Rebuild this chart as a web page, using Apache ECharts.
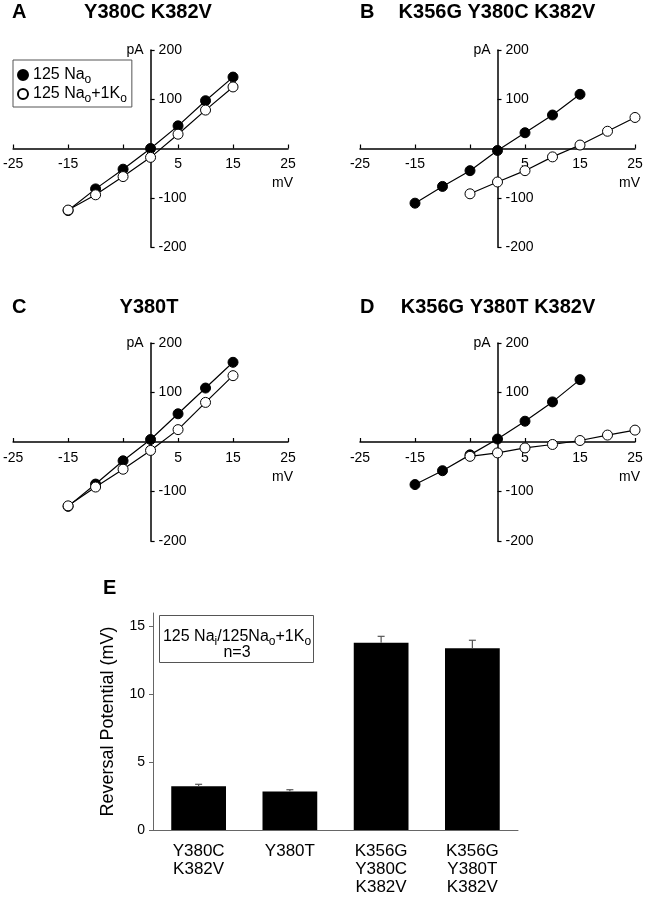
<!DOCTYPE html>
<html>
<head>
<meta charset="utf-8">
<script src="https://cdn.jsdelivr.net/npm/echarts@6/dist/echarts.min.js"></script>
<style>
html,body{margin:0;padding:0;background:#fff;}
#chart{width:646px;height:899px;}
</style>
</head>
<body>
<div id="chart"></div>
<script>
// ---------- data ----------
const ivTicks = [-25, -15, -5, 5, 15, 25];
const ivXLabels = [-25, -15, 5, 15, 25];
const ivYLabels = [-200, -100, 100, 200];

const voltShort = [-15, -10, -5, 0, 5, 10, 15];
const voltLong = [-5, 0, 5, 10, 15, 20, 25];

const aNa = [-126, -82, -42, 0, 46, 97, 145];
const aNaK = [-125, -94, -57, -18, 29, 78, 125];

const bNa = [-111, -77, -45, -4, 32, 68, 110];
const bNaK = [-92, -68, -45, -17, 7, 35, 63];

const cNa = [-130, -85, -38, 5, 57, 109, 161];
const cNaK = [-129, -91, -55, -17, 25, 80, 134];

const dNa = [-86, -58, -26, 6, 42, 81, 126];
const dNaK = [-29, -22, -12, -5, 3, 14, 24];

const barCategories = ['Y380C\nK382V', 'Y380T', 'K356G\nY380C\nK382V', 'K356G\nY380T\nK382V'];
const barMeans = [3.22, 2.83, 13.8, 13.4];
const barErrors = [0.15, 0.14, 0.48, 0.59];
const barYLabels = [0, 5, 10, 15];

const nameNa = '125 Nao';
const nameNaK = '125 Nao+1Ko';

// ---------- layout ----------
const FONT = 'Liberation Sans, Arial, sans-serif';
const panels = [
  {left: 13, top: 50, width: 275, height: 197},
  {left: 360, top: 50, width: 275, height: 197},
  {left: 13, top: 343, width: 275, height: 198},
  {left: 360, top: 343, width: 275, height: 198}
];

function zip(xs, ys) { return xs.map((x, i) => [x, ys[i]]); }

const grids = panels.map(p => ({left: p.left, top: p.top, width: p.width, height: p.height, containLabel: false}));
grids.push({left: 153, top: 613, width: 365, height: 217});

// axes cross at zero: ranges are symmetric, so the crossing is the grid's middle
const xAxes = panels.map((p, i) => ({
  type: 'value', gridIndex: i, min: -25, max: 25, position: 'bottom', offset: -p.height / 2,
  axisLine: {onZero: false, lineStyle: {color: '#000', width: 1.5}},
  axisTick: {inside: true, length: 4, customValues: ivTicks, lineStyle: {color: '#000', width: 1.2}},
  axisLabel: {customValues: ivXLabels, fontSize: 14, color: '#000', margin: 9, fontFamily: FONT},
  splitLine: {show: false},
  name: 'mV', nameLocation: 'end', nameGap: 5,
  nameTextStyle: {fontSize: 14, color: '#000', align: 'right', verticalAlign: 'top', padding: [28, 0, 0, 0], fontFamily: FONT}
}));
xAxes.push({
  type: 'category', gridIndex: 4, data: barCategories,
  axisLine: {lineStyle: {color: '#666', width: 1}},
  axisTick: {alignWithLabel: true, length: 5, lineStyle: {color: '#666'}},
  axisLabel: {interval: 0, fontSize: 17, color: '#000', lineHeight: 18, margin: 12, fontFamily: FONT}
});

const yAxes = panels.map((p, i) => ({
  type: 'value', gridIndex: i, min: -200, max: 200, position: 'left', offset: -p.width / 2,
  axisLine: {onZero: false, lineStyle: {color: '#000', width: 1.5}},
  axisTick: {inside: true, length: 4, customValues: ivYLabels, lineStyle: {color: '#000', width: 1.2}},
  axisLabel: {inside: true, customValues: ivYLabels, fontSize: 14, color: '#000', margin: 8, fontFamily: FONT},
  splitLine: {show: false},
  name: 'pA', nameLocation: 'end', nameGap: 0,
  nameTextStyle: {fontSize: 14, color: '#000', align: 'right', verticalAlign: 'middle', padding: [0, 7, 0, 0], fontFamily: FONT}
}));
yAxes.push({
  type: 'value', gridIndex: 4, min: 0, max: 16,
  axisLine: {show: true, lineStyle: {color: '#666', width: 1}},
  axisTick: {show: true, length: 4, customValues: barYLabels, lineStyle: {color: '#666'}},
  axisLabel: {customValues: barYLabels, fontSize: 14, color: '#000', margin: 8, fontFamily: FONT},
  splitLine: {show: false},
  name: 'Reversal Potential (mV)', nameLocation: 'middle', nameGap: 36,
  nameTextStyle: {fontSize: 18, color: '#000', fontFamily: FONT}
});

const filledStyle = {color: '#000', borderColor: '#000', borderWidth: 1};
const openStyle = {color: '#fff', borderColor: '#000', borderWidth: 1};
function ivSeries(idx, name, xs, ys, style) {
  return {
    type: 'line', name: name, xAxisIndex: idx, yAxisIndex: idx,
    data: zip(xs, ys), symbol: 'circle', symbolSize: 10,
    lineStyle: {color: '#000', width: 1.2}, itemStyle: style,
    emphasis: {disabled: true}, animation: false, z: 3
  };
}

const series = [
  ivSeries(0, nameNa, voltShort, aNa, filledStyle),
  ivSeries(0, nameNaK, voltShort, aNaK, openStyle),
  ivSeries(1, nameNa, voltShort, bNa, filledStyle),
  ivSeries(1, nameNaK, voltLong, bNaK, openStyle),
  ivSeries(2, nameNa, voltShort, cNa, filledStyle),
  ivSeries(2, nameNaK, voltShort, cNaK, openStyle),
  ivSeries(3, nameNa, voltShort, dNa, filledStyle),
  ivSeries(3, nameNaK, voltLong, dNaK, openStyle),
  {
    type: 'bar', xAxisIndex: 4, yAxisIndex: 4, data: barMeans, barWidth: '60%',
    itemStyle: {color: '#000'}, animation: false
  },
  {
    type: 'custom', xAxisIndex: 4, yAxisIndex: 4,
    data: barMeans.map((m, i) => [i, m, m + barErrors[i]]),
    encode: {x: 0, y: [1, 2]},
    renderItem: function (params, api) {
      const lo = api.coord([api.value(0), api.value(1)]);
      const hi = api.coord([api.value(0), api.value(2)]);
      const st = {stroke: '#555', lineWidth: 1.2};
      return {type: 'group', children: [
        {type: 'line', shape: {x1: lo[0], y1: lo[1], x2: hi[0], y2: hi[1]}, style: st},
        {type: 'line', shape: {x1: hi[0] - 3.5, y1: hi[1], x2: hi[0] + 3.5, y2: hi[1]}, style: st}
      ]};
    },
    z: 5, animation: false
  }
];

function t(x, y, text, size, bold, align) {
  return {type: 'text', x: x, y: y, silent: true, z: 11,
    style: {text: text, font: (bold ? 'bold ' : '') + size + 'px ' + FONT, fill: '#000',
      textAlign: align || 'left', align: align || 'left', textVerticalAlign: 'middle', verticalAlign: 'middle'}};
}

const subRich = {
  n: {fontSize: 16, color: '#000', fontFamily: FONT, lineHeight: 22},
  s: {fontSize: 12, color: '#000', fontFamily: FONT, lineHeight: 12, padding: [10, 0, 0, 0]}
};

const graphic = [
  t(12, 12, 'A', 20, true), t(148, 12, 'Y380C K382V', 20, true, 'center'),
  t(360, 12, 'B', 20, true), t(497, 12, 'K356G Y380C K382V', 20, true, 'center'),
  t(12, 307, 'C', 20, true), t(149, 307, 'Y380T', 20, true, 'center'),
  t(360, 307, 'D', 20, true), t(498, 307, 'K356G Y380T K382V', 20, true, 'center'),
  t(103, 588, 'E', 20, true),
  {type: 'rect', shape: {x: 159.5, y: 615.5, width: 154, height: 47}, style: {fill: '#fff', stroke: '#555', lineWidth: 1}, z: 10},
  {type: 'text', x: 237, y: 637, z: 11,
    style: {text: '{n|125 Na}{s|i}{n|/125Na}{s|o}{n|+1K}{s|o}', rich: subRich, textAlign: 'center', align: 'center', textVerticalAlign: 'middle', verticalAlign: 'middle'}},
  t(237, 653, 'n=3', 16, false, 'center')
];

const chart = echarts.init(document.getElementById('chart'), null, {renderer: 'canvas'});
chart.setOption({
  animation: false,
  textStyle: {fontFamily: FONT},
  grid: grids,
  xAxis: xAxes,
  yAxis: yAxes,
  legend: {
    data: [nameNa, nameNaK], left: 13, top: 60, orient: 'vertical',
    icon: 'circle', itemWidth: 10, itemHeight: 10, itemGap: -3,
    padding: [4, 5, 2, 4], borderColor: '#555', borderWidth: 1, backgroundColor: '#fff',
    selectedMode: false,
    formatter: function (name) {
      return name === nameNa ? '{n|125 Na}{s|o}' : '{n|125 Na}{s|o}{n|+1K}{s|o}';
    },
    textStyle: {rich: subRich}
  },
  series: series,
  graphic: graphic
});
</script>
</body>
</html>
